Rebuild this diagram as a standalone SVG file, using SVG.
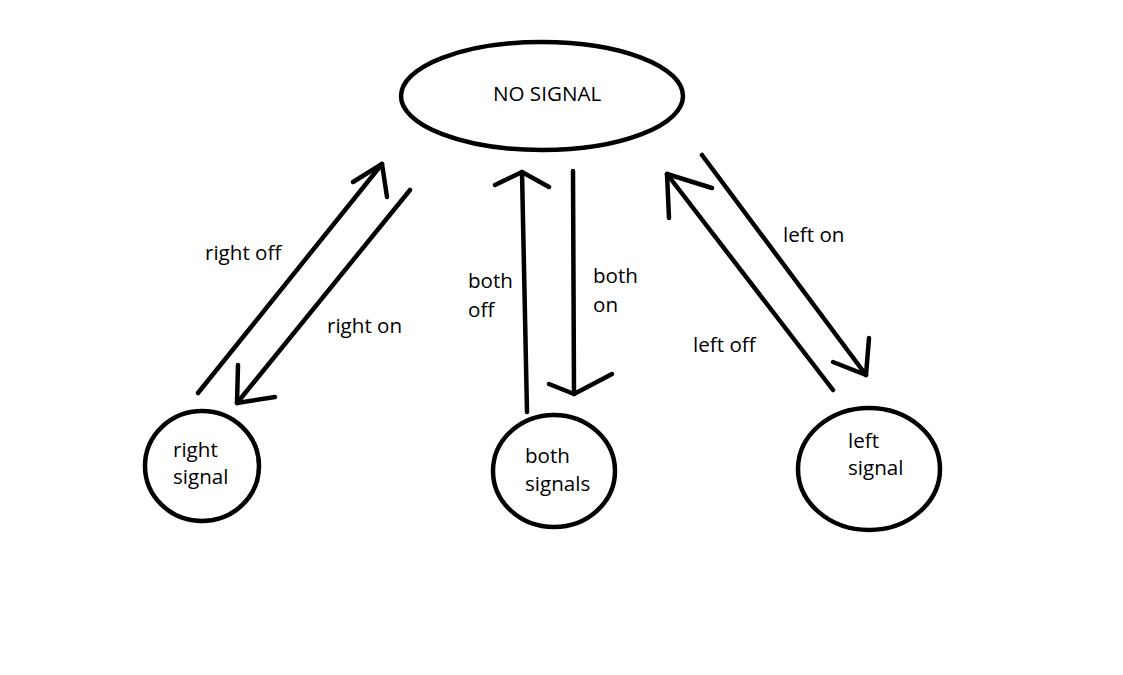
<svg xmlns="http://www.w3.org/2000/svg" width="1123" height="675" viewBox="0 0 1123 675">
<style>
.node{fill:none;stroke:#000;stroke-width:4.5}
.c line,.c polyline{fill:none;stroke:#000;stroke-width:4.5;stroke-linecap:round;stroke-linejoin:round}
text{font-family:"Open Sans","Liberation Sans",sans-serif;font-size:20.6px;fill:#000}
</style>
<rect width="1123" height="675" fill="#fff"/>
<g id="no-signal">
<ellipse class="node" cx="542" cy="96" rx="141" ry="54"/>
<text x="493" y="101">NO SIGNAL</text>
</g>
<g id="right-signal">
<ellipse class="node" cx="202" cy="466" rx="57" ry="55"/>
<text x="173" y="457">right</text>
<text x="173" y="484">signal</text>
</g>
<g id="both-signals">
<ellipse class="node" cx="554" cy="471" rx="61" ry="56"/>
<text x="525" y="463">both</text>
<text x="525" y="491">signals</text>
</g>
<g id="left-signal">
<ellipse class="node" cx="869" cy="469" rx="71" ry="61"/>
<text x="848" y="448">left</text>
<text x="848" y="475">signal</text>
</g>
<g id="connectors" class="c">
<line x1="198" y1="393" x2="382" y2="164"/>
<polyline points="353,182 382,164 387,197"/>
<line x1="410" y1="190" x2="237" y2="403"/>
<polyline points="238,365 237,403 275,397"/>
<line x1="527" y1="412" x2="522" y2="172"/>
<polyline points="495,185 522,172 549,187"/>
<line x1="573" y1="171" x2="574" y2="394"/>
<polyline points="549,384 574,394 612,374"/>
<line x1="833" y1="390" x2="667" y2="174"/>
<polyline points="712,188 667,174 669,218"/>
<line x1="702" y1="155" x2="866" y2="375"/>
<polyline points="833,362 866,375 869,338"/>
</g>
<g id="labels">
<text x="205" y="260">right off</text>
<text x="327" y="333">right on</text>
<text x="468" y="288">both</text>
<text x="468" y="317">off</text>
<text x="593" y="283">both</text>
<text x="593" y="312">on</text>
<text x="783" y="242">left on</text>
<text x="693" y="352">left off</text>
</g>
</svg>
